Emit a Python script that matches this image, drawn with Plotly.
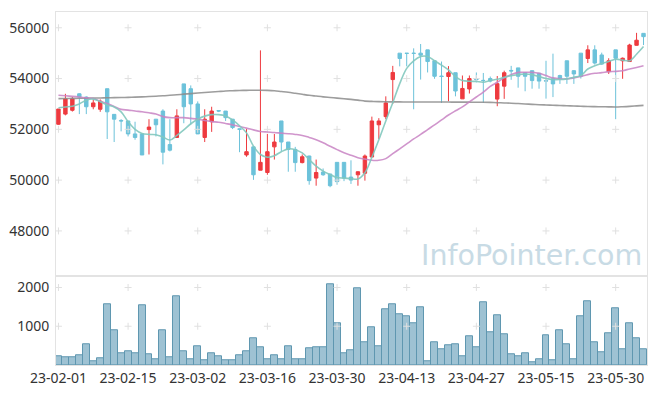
import plotly.graph_objects as go

dates = [
    "23-02-01","23-02-02","23-02-03","23-02-06","23-02-07","23-02-08","23-02-09","23-02-10","23-02-13","23-02-14",
    "23-02-15","23-02-16","23-02-17","23-02-20","23-02-21","23-02-22","23-02-23","23-02-24","23-02-27","23-02-28",
    "23-03-02","23-03-03","23-03-06","23-03-07","23-03-08","23-03-09","23-03-10","23-03-13","23-03-14","23-03-15",
    "23-03-16","23-03-17","23-03-20","23-03-21","23-03-22","23-03-23","23-03-24","23-03-27","23-03-28","23-03-29",
    "23-03-30","23-03-31","23-04-03","23-04-04","23-04-05","23-04-06","23-04-07","23-04-10","23-04-11","23-04-12",
    "23-04-13","23-04-14","23-04-17","23-04-18","23-04-19","23-04-20","23-04-21","23-04-24","23-04-25","23-04-26",
    "23-04-27","23-04-28","23-05-02","23-05-03","23-05-04","23-05-08","23-05-09","23-05-10","23-05-11","23-05-12",
    "23-05-15","23-05-16","23-05-17","23-05-18","23-05-19","23-05-22","23-05-23","23-05-24","23-05-25","23-05-26",
    "23-05-30","23-05-31","23-06-01","23-06-02","23-06-05",
]

open_ = [52200,52600,52750,53400,53270,52890,52790,53600,52590,52350,
         52330,51820,51820,51990,52400,52720,51400,51680,53790,53600,
         53000,51680,52300,52740,52720,52400,52020,50990,51310,50390,
         50300,51310,52330,51500,51210,50690,50950,50080,50320,50240,
         50700,50700,50120,50210,50270,50910,52180,52500,53960,55000,
         55000,55000,55000,55130,54700,54100,54080,54230,53200,53590,
         54000,53930,54000,53190,53700,54320,54420,54230,54310,54210,
         53920,53990,54120,54700,54310,55000,54790,55130,54930,54270,
         55130,54700,54670,55310,55780]
high = [52800,53400,53280,53420,53300,53180,53180,53600,52600,52400,
        52330,52300,51820,52400,52400,52790,52400,52790,53790,53730,
        53100,52790,52890,52760,52720,52400,52030,52010,51310,55110,
        51820,51820,52330,51500,51310,51010,50960,50810,50460,50240,
        50700,50700,50780,50340,51010,52500,52440,53300,54500,55000,
        55000,55190,55360,55130,54700,54670,54490,54230,54120,54120,
        54240,54220,54080,54100,54310,54500,54420,54230,54310,54210,
        54700,54980,54150,54700,54330,55000,55310,55310,55020,54800,
        55130,54830,55370,55800,55780]
low = [52180,52550,52700,52600,52600,52790,52690,51620,51500,51920,
       51720,51590,50990,51010,51720,50620,51130,51680,52240,52180,
       51820,51500,51900,52680,52330,52010,51100,50920,50010,50390,
       50210,50810,51140,50330,50330,50660,49820,49780,50170,49720,
       49820,49960,49850,49780,49980,50910,51620,52400,53000,54480,
       54480,52790,53960,54240,53990,53040,53110,53300,53200,53410,
       53850,53040,53850,52910,53200,53950,53640,53500,53600,53600,
       53210,53270,53790,53790,53790,54000,54610,54550,54540,54180,
       52400,53990,54670,55300,55320]
close = [52800,53200,53200,53270,52890,53040,53110,52690,52400,52330,
         51820,51680,50990,52090,52180,51100,51180,52530,52890,53000,
         51820,52400,52720,52720,52460,52070,52000,51120,50210,50700,
         51120,51500,51500,51210,50690,50920,49980,50300,50210,49780,
         49940,50080,50000,50330,50950,52330,52330,53040,54240,54790,
         54990,54990,54920,54670,54090,54080,54230,53510,53610,54000,
         53950,53920,53900,53800,54230,54300,54090,54090,53920,53900,
         53900,53790,53990,54090,54180,54090,55130,54610,54570,54700,
         54800,54800,55320,55510,55650]

volume = [237,212,212,263,542,85,186,1559,898,314,
          364,314,1534,288,161,898,212,1763,364,161,
          492,110,314,237,110,110,263,364,695,466,
          161,263,161,492,161,136,441,466,466,2093,
          1076,314,390,1992,593,975,492,1432,1559,1305,
          1254,1076,1483,85,593,415,517,542,237,746,
          466,1610,847,1280,797,288,237,314,59,161,
          771,110,898,542,136,1254,1636,593,339,822,
          1458,415,1076,695,415]

ma5 = [52850,52880,52910,53000,53150,53190,53090,52960,52880,52690,
       52300,52000,51840,51800,51790,51700,51580,51760,51980,52220,
       52400,52520,52580,52580,52530,52370,52140,51860,51340,51010,
       50900,50960,51120,51230,51200,51070,50810,50550,50355,50220,
       50100,50080,50060,50045,50290,50900,51590,52330,53050,53800,
       54400,54700,54870,54870,54700,54530,54340,54080,53920,53895,
       53885,53856,53920,53970,54050,54116,54155,54182,54155,54078,
       54000,53961,53961,53988,54051,54116,54376,54504,54596,54671,
       54763,54725,54698,54958,55260]

ma20 = [53340,53320,53300,53274,53240,53212,53110,53018,52900,52786,
        52758,52720,52692,52650,52603,52500,52460,52460,52460,52430,
        52398,52350,52304,52281,52230,52176,52110,52048,51980,51916,
        51895,51877,51850,51827,51800,51761,51680,51594,51470,51334,
        51200,51075,50980,50885,50830,50780,50780,50846,51040,51234,
        51427,51622,51800,51990,52176,52370,52564,52730,52886,53080,
        53274,53468,53690,53856,54027,54155,54244,54244,54244,54206,
        54116,54027,53988,53988,54027,54078,54155,54206,54233,54272,
        54283,54310,54376,54438,54504]

ma120 = [53210,53214,53218,53222,53226,53230,53236,53242,53248,53254,
         53260,53270,53280,53292,53306,53320,53340,53360,53385,53408,
         53430,53450,53470,53490,53510,53520,53530,53535,53540,53540,
         53535,53520,53490,53460,53420,53380,53340,53310,53280,53255,
         53230,53205,53180,53150,53110,53100,53090,53085,53080,53080,
         53078,53078,53078,53077,53076,53075,53074,53073,53072,53070,
         53068,53065,53060,53050,53040,53030,53015,53000,52985,52970,
         52960,52950,52940,52930,52920,52910,52900,52895,52890,52885,
         52880,52890,52905,52925,52945]

price_ticks = [48000, 50000, 52000, 54000, 56000]
vol_ticks = [1000, 2000]
date_ticks = ["23-02-01", "23-02-15", "23-03-02", "23-03-16", "23-03-30",
              "23-04-13", "23-04-27", "23-05-15", "23-05-30"]

RED = "#ee3a3f"
BLUE = "#6cc2da"
GRID = "#e0e0e0"
FRAME = "#e3e3e3"
FONT = "Noto Sans"

fig = go.Figure()

fig.add_trace(go.Candlestick(
    x=dates, open=open_, high=high, low=low, close=close,
    xaxis="x", yaxis="y",
    increasing=dict(line=dict(color=RED, width=1), fillcolor=RED),
    decreasing=dict(line=dict(color=BLUE, width=1), fillcolor=BLUE),
    whiskerwidth=0, showlegend=False))

fig.add_trace(go.Bar(x=dates, y=volume, xaxis="x2", yaxis="y2",
                     marker=dict(color="rgba(125,173,196,0.75)",
                                 line=dict(color="#5f97b0", width=1)),
                     showlegend=False))

# grid "+" marks
fig.add_trace(go.Scatter(
    x=[d for d in date_ticks for _ in price_ticks],
    y=[p for _ in date_ticks for p in price_ticks],
    mode="markers", xaxis="x", yaxis="y", hoverinfo="skip",
    marker=dict(symbol="cross-thin", size=5, line=dict(color=GRID, width=1)),
    showlegend=False))
fig.add_trace(go.Scatter(
    x=[d for d in date_ticks for _ in vol_ticks],
    y=[v for _ in date_ticks for v in vol_ticks],
    mode="markers", xaxis="x2", yaxis="y2", hoverinfo="skip",
    marker=dict(symbol="cross-thin", size=5, line=dict(color=GRID, width=1)),
    showlegend=False))

fig.add_trace(go.Scatter(x=dates, y=ma120, mode="lines", xaxis="x", yaxis="y",
                         line=dict(color="rgba(140,140,140,0.85)", width=1.6, shape="spline"),
                         showlegend=False))
fig.add_trace(go.Scatter(x=dates, y=ma20, mode="lines", xaxis="x", yaxis="y",
                         line=dict(color="rgba(200,130,195,0.85)", width=1.6, shape="spline"),
                         showlegend=False))
fig.add_trace(go.Scatter(x=dates, y=ma5, mode="lines", xaxis="x", yaxis="y",
                         line=dict(color="rgba(130,200,190,0.9)", width=1.6, shape="spline"),
                         showlegend=False))

fig.add_annotation(text="InfoPointer.com", xref="paper", yref="paper",
                   x=0.805, y=0.311, xanchor="center", yanchor="middle",
                   showarrow=False,
                   font=dict(family="DejaVu Sans", size=28.5, color="#c8dbe5"))

split = 90 / 358

# page body has an 8px margin, so the figure is sized to fit inside it
fig.update_layout(
    width=641, height=380, autosize=False,
    margin=dict(l=46, r=1, t=4, b=18),
    paper_bgcolor="white", plot_bgcolor="white",
    bargap=0, showlegend=False,
    font=dict(family=FONT, size=14, color="#333333"),
    xaxis=dict(type="category", categoryorder="array", categoryarray=dates,
               domain=[0, 1], anchor="y", range=[-0.35, 84.5],
               showticklabels=False, showgrid=False, zeroline=False,
               showline=True, mirror=True, linecolor=FRAME, linewidth=1,
               rangeslider=dict(visible=False), ticks=""),
    yaxis=dict(domain=[split, 1], anchor="x", range=[46214, 56621],
               tickvals=price_ticks, ticktext=[str(p) for p in price_ticks],
               showgrid=False, zeroline=False,
               showline=True, mirror=True, linecolor=FRAME, linewidth=1,
               ticks="outside", ticklen=3, tickcolor="rgba(0,0,0,0)"),
    xaxis2=dict(type="category", categoryorder="array", categoryarray=dates,
                domain=[0, 1], anchor="y2", matches="x",
                range=[-0.35, 84.5],
                tickvals=date_ticks, ticktext=date_ticks,
                showgrid=False, zeroline=False,
                showline=True, mirror=True, linecolor=FRAME, linewidth=1,
                ticks="", tickangle=0),
    yaxis2=dict(domain=[0, split], anchor="x2", range=[0, 2290],
                tickvals=vol_ticks, ticktext=[str(v) for v in vol_ticks],
                showgrid=False, zeroline=False,
                showline=True, mirror=True, linecolor=FRAME, linewidth=1,
                ticks="outside", ticklen=3, tickcolor="rgba(0,0,0,0)"),
)

fig.write_html("out.html")
